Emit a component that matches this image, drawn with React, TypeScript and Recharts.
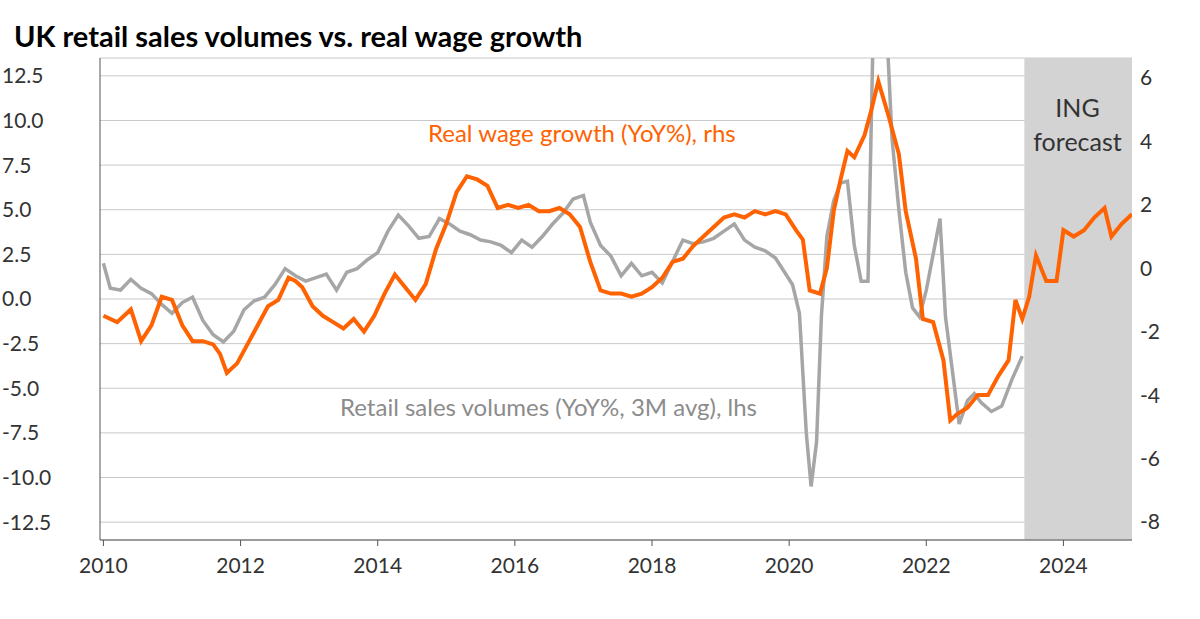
import React from 'react';
import { ComposedChart, Line, XAxis, YAxis, CartesianGrid, ReferenceArea } from 'recharts';

const wageYears = [2010.0, 2010.2, 2010.4, 2010.55, 2010.7, 2010.85, 2011.0, 2011.15, 2011.3, 2011.45, 2011.6, 2011.7, 2011.8, 2011.95, 2012.1, 2012.25, 2012.4, 2012.55, 2012.7, 2012.8, 2012.9, 2013.05, 2013.2, 2013.35, 2013.5, 2013.65, 2013.8, 2013.95, 2014.1, 2014.25, 2014.4, 2014.55, 2014.7, 2014.85, 2015.0, 2015.15, 2015.3, 2015.45, 2015.6, 2015.75, 2015.9, 2016.05, 2016.2, 2016.35, 2016.5, 2016.65, 2016.8, 2016.95, 2017.1, 2017.25, 2017.4, 2017.55, 2017.7, 2017.85, 2018.0, 2018.15, 2018.3, 2018.45, 2018.6, 2018.75, 2018.9, 2019.05, 2019.2, 2019.35, 2019.5, 2019.65, 2019.8, 2019.95, 2020.1, 2020.2, 2020.3, 2020.45, 2020.55, 2020.65, 2020.75, 2020.85, 2020.95, 2021.1, 2021.2, 2021.3, 2021.45, 2021.6, 2021.7, 2021.85, 2021.95, 2022.1, 2022.25, 2022.35, 2022.45, 2022.6, 2022.75, 2022.9, 2023.05, 2023.2, 2023.3, 2023.4, 2023.5, 2023.6, 2023.75, 2023.9, 2024.0, 2024.15, 2024.3, 2024.45, 2024.6, 2024.7, 2024.85, 2025.0];
const wageGrowth = [-1.5, -1.7, -1.3, -2.3, -1.8, -0.9, -1.0, -1.8, -2.3, -2.3, -2.4, -2.7, -3.3, -3.0, -2.4, -1.8, -1.2, -1.0, -0.3, -0.4, -0.6, -1.2, -1.5, -1.7, -1.9, -1.6, -2.0, -1.5, -0.8, -0.2, -0.6, -1.0, -0.5, 0.6, 1.4, 2.4, 2.9, 2.8, 2.6, 1.9, 2.0, 1.9, 2.0, 1.8, 1.8, 1.9, 1.7, 1.3, 0.2, -0.7, -0.8, -0.8, -0.9, -0.8, -0.6, -0.3, 0.2, 0.3, 0.7, 1.0, 1.3, 1.6, 1.7, 1.6, 1.8, 1.7, 1.8, 1.7, 1.2, 0.9, -0.7, -0.8, 0.0, 1.8, 2.8, 3.7, 3.5, 4.2, 5.0, 5.9, 4.8, 3.6, 1.8, 0.3, -1.6, -1.7, -2.9, -4.8, -4.6, -4.4, -4.0, -4.0, -3.4, -2.9, -1.0, -1.6, -0.9, 0.4, -0.4, -0.4, 1.2, 1.0, 1.2, 1.6, 1.9, 1.0, 1.4, 1.7];

const retailYears = [2010.0, 2010.1, 2010.25, 2010.4, 2010.55, 2010.7, 2010.85, 2011.0, 2011.15, 2011.3, 2011.45, 2011.6, 2011.75, 2011.9, 2012.05, 2012.2, 2012.35, 2012.5, 2012.65, 2012.8, 2012.95, 2013.1, 2013.25, 2013.4, 2013.55, 2013.7, 2013.85, 2014.0, 2014.15, 2014.3, 2014.45, 2014.6, 2014.75, 2014.9, 2015.05, 2015.2, 2015.35, 2015.5, 2015.65, 2015.8, 2015.95, 2016.1, 2016.25, 2016.4, 2016.55, 2016.7, 2016.85, 2017.0, 2017.1, 2017.25, 2017.4, 2017.55, 2017.7, 2017.85, 2018.0, 2018.15, 2018.3, 2018.45, 2018.6, 2018.75, 2018.9, 2019.05, 2019.2, 2019.35, 2019.5, 2019.65, 2019.8, 2019.95, 2020.05, 2020.15, 2020.25, 2020.32, 2020.4, 2020.47, 2020.55, 2020.65, 2020.75, 2020.85, 2020.95, 2021.05, 2021.15, 2021.22, 2021.3, 2021.4, 2021.5, 2021.6, 2021.7, 2021.8, 2021.9, 2022.0, 2022.1, 2022.2, 2022.28, 2022.38, 2022.48, 2022.6, 2022.7, 2022.8, 2022.95, 2023.1, 2023.25, 2023.4];
const retailSales = [2.0, 0.6, 0.5, 1.1, 0.6, 0.3, -0.3, -0.8, -0.2, 0.1, -1.2, -2.0, -2.4, -1.8, -0.6, -0.1, 0.1, 0.8, 1.7, 1.3, 1.0, 1.2, 1.4, 0.5, 1.5, 1.7, 2.2, 2.6, 3.8, 4.7, 4.1, 3.4, 3.5, 4.5, 4.2, 3.8, 3.6, 3.3, 3.2, 3.0, 2.6, 3.3, 2.9, 3.5, 4.2, 4.8, 5.6, 5.8, 4.3, 3.0, 2.4, 1.3, 2.0, 1.3, 1.5, 0.9, 2.1, 3.3, 3.1, 3.2, 3.4, 3.8, 4.2, 3.3, 2.9, 2.7, 2.3, 1.4, 0.8, -0.8, -7.5, -10.5, -8.0, -1.0, 3.5, 5.5, 6.5, 6.6, 3.0, 1.0, 1.0, 14.0, 17.0, 17.0, 9.0, 5.0, 1.5, -0.5, -1.0, 0.5, 2.5, 4.5, -1.0, -4.0, -7.0, -5.7, -5.3, -5.8, -6.3, -6.0, -4.5, -3.2];

const xTicks = [2010, 2012, 2014, 2016, 2018, 2020, 2022, 2024];
const leftTicks = [12.5, 10, 7.5, 5, 2.5, 0, -2.5, -5, -7.5, -10, -12.5];
const rightTicks = [6, 4, 2, 0, -2, -4, -6, -8];

const wageData = wageYears.map((x, i) => ({ x, wage: wageGrowth[i] }));
const retailData = retailYears.map((x, i) => ({ x, retail: retailSales[i] }));

const font = 'Lato, "Open Sans", sans-serif';

export default function App() {
  return (
    <div style={{ position: 'absolute', left: 0, top: 0, width: 1200, height: 619, background: '#fff', fontFamily: font }}>
      <div style={{ position: 'absolute', left: 14, top: 18, fontSize: 29, fontWeight: 700, color: '#000' }}>
        UK retail sales volumes vs. real wage growth
      </div>
      <ComposedChart width={1200} height={619} margin={{ top: 58, right: 0, bottom: 0, left: 0 }}>
        <CartesianGrid horizontal vertical={false} stroke="#c8c8c8" yAxisId="left" />
        <XAxis dataKey="x" type="number" domain={[2009.95, 2025.0]} ticks={xTicks} allowDataOverflow
          height={79} tick={{ fontSize: 21, fill: '#333', fontFamily: font }} tickMargin={12}
          stroke="#555" tickLine={{ stroke: '#555' }} />
        <YAxis yAxisId="left" domain={[-13.5, 13.5]} ticks={leftTicks} allowDataOverflow width={100}
          tickFormatter={(v: number) => v.toFixed(1)}
          tick={{ fontSize: 21, fill: '#333', fontFamily: font, textAnchor: 'start', dx: -90 }}
          stroke="#555" tickLine={false} />
        <YAxis yAxisId="right" orientation="right" domain={[-8.57, 6.63]} ticks={rightTicks} allowDataOverflow width={68}
          tick={{ fontSize: 21, fill: '#333', fontFamily: font }} axisLine={false} tickLine={false} />
        <ReferenceArea yAxisId="left" x1={2023.43} x2={2025.0} y1={-13.5} y2={13.5} fill="#d3d3d3" fillOpacity={1} stroke="none" />
        <Line yAxisId="left" data={retailData} dataKey="retail" type="linear" stroke="#a6a6a6" strokeWidth={3.5}
          dot={false} isAnimationActive={false} />
        <Line yAxisId="right" data={wageData} dataKey="wage" type="linear" stroke="#ff6200" strokeWidth={4}
          dot={false} isAnimationActive={false} />
      </ComposedChart>
      <div style={{ position: 'absolute', left: 1023, width: 109, top: 90, textAlign: 'center', fontSize: 25, lineHeight: '34px', color: '#333' }}>
        ING<br />forecast
      </div>
      <div style={{ position: 'absolute', left: 428, top: 118, fontSize: 24, color: '#ff6200' }}>Real wage growth (YoY%), rhs</div>
      <div style={{ position: 'absolute', left: 340, top: 392, fontSize: 24, color: '#8c8c8c' }}>Retail sales volumes (YoY%, 3M avg), lhs</div>
    </div>
  );
}
